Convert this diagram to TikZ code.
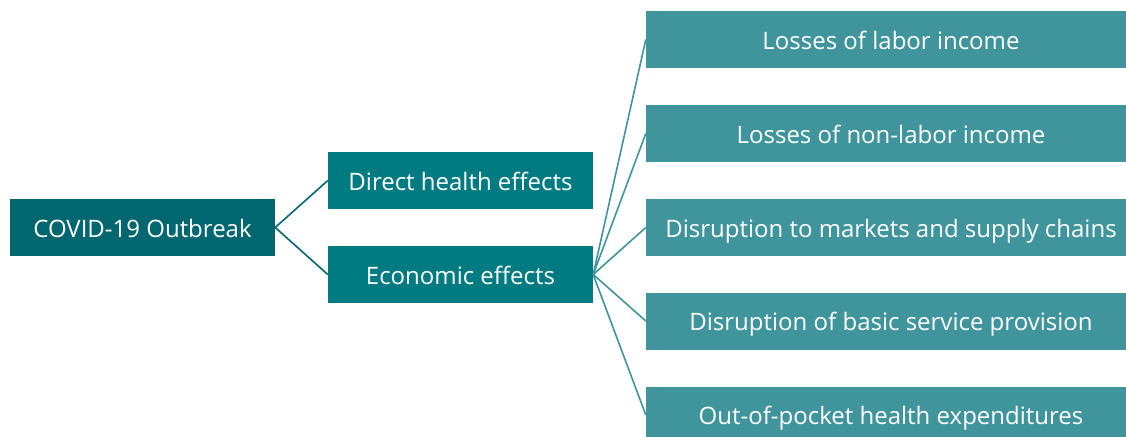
\documentclass[tikz,border=0pt]{standalone}
\usepackage{fontspec}
\setmainfont{Open Sans}
\definecolor{rootteal}{HTML}{006670}
\definecolor{midteal}{HTML}{007B82}
\definecolor{leafteal}{HTML}{40959D}
\begin{document}
\begin{tikzpicture}[x=1pt,y=-1pt]
          \tikzstyle{box}=[rectangle,inner sep=0pt,minimum height=57pt,text height=19pt,text depth=0pt,text=white,font=\fontsize{24}{28}\selectfont]
          \tikzstyle{root}=[box,fill=rootteal,minimum width=265pt]
          \tikzstyle{branch}=[box,fill=midteal,minimum width=265pt]
          \tikzstyle{leaf}=[box,fill=leafteal,minimum width=490pt]
          \tikzstyle{edge}=[draw,line width=1.6pt]
          \useasboundingbox (0,0) rectangle (1126,436);
          \begin{scope}
              \node [root] (outbreak) at (142.5,227.5) {COVID-19 Outbreak};
              \node [branch] (health) at (460.5,180.5) {Direct health effects};
              \node [branch] (econ) at (460.5,274.5) {Economic effects};
              \node [leaf] (labor) at (891,39.5) {Losses of labor income};
              \node [leaf] (nonlabor) at (891,133.5) {Losses of non-labor income};
              \node [leaf] (markets) at (891,227.5) {Disruption to markets and supply chains};
              \node [leaf] (service) at (891,321) {Disruption of basic service provision};
              \node [leaf] (pocket) at (891,415) {Out-of-pocket health expenditures};
              \path[edge,rootteal] (outbreak.east) edge (health.west);
              \path[edge,rootteal] (outbreak.east) edge (econ.west);
              \path[edge,leafteal] (econ.east) edge (labor.west);
              \path[edge,leafteal] (econ.east) edge (nonlabor.west);
              \path[edge,leafteal] (econ.east) edge (markets.west);
              \path[edge,leafteal] (econ.east) edge (service.west);
              \path[edge,leafteal] (econ.east) edge (pocket.west);
          \end{scope}
\end{tikzpicture}
\end{document}
